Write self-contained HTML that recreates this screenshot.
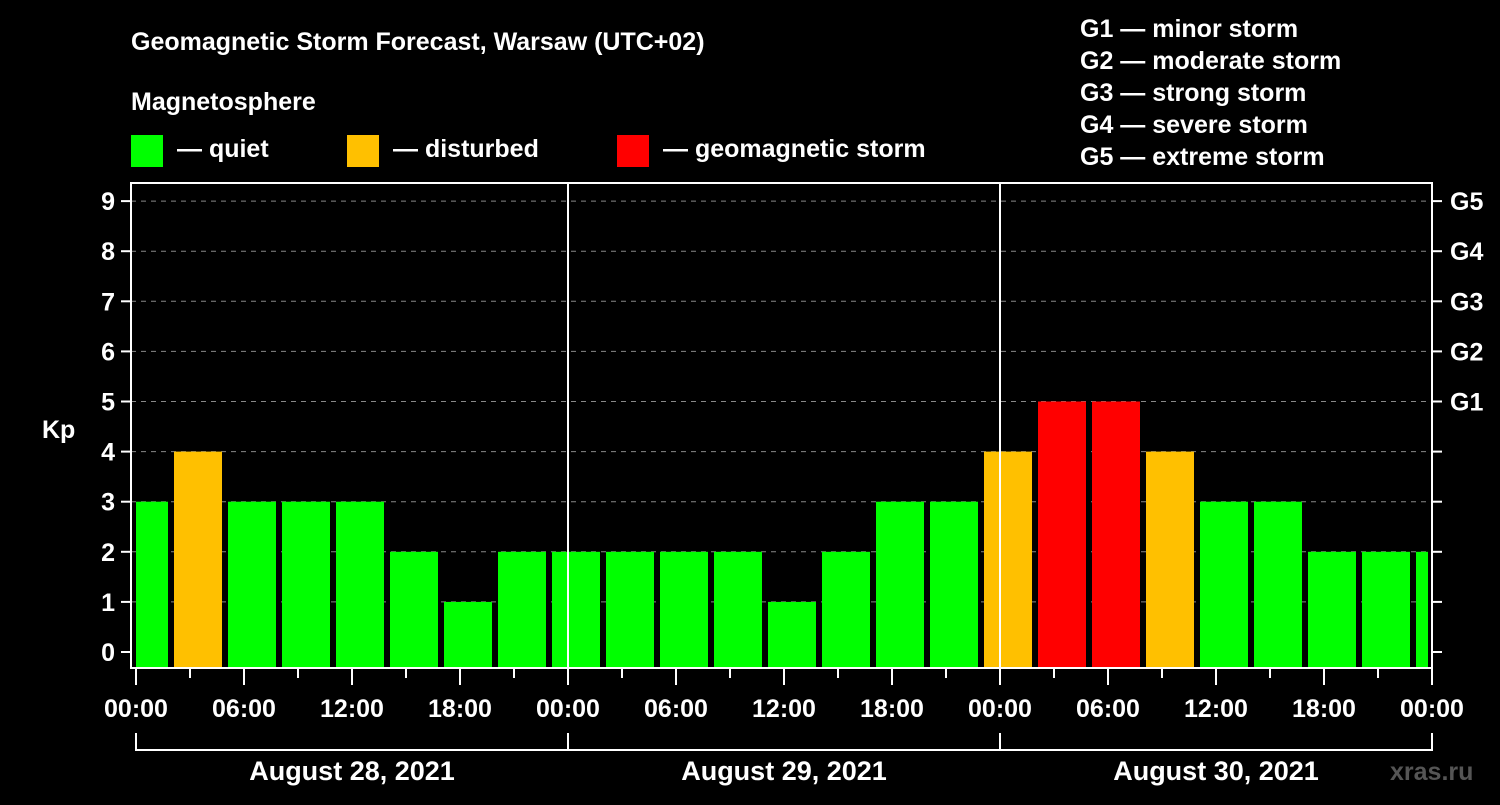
<!DOCTYPE html>
<html><head><meta charset="utf-8"><style>
body{margin:0;background:#000;}
svg text{font-family:"Liberation Sans",sans-serif;font-weight:bold;fill:#fff;}
</style></head><body>
<svg id="c" width="1500" height="800" viewBox="0 0 1500 800" xmlns="http://www.w3.org/2000/svg">
<rect width="1500" height="800" fill="#000"/>
<text x="131" y="50" font-size="25">Geomagnetic Storm Forecast, Warsaw (UTC+02)</text>
<text x="131" y="110" font-size="25">Magnetosphere</text>
<g>
<rect x="131" y="135" width="32" height="32" fill="#00ff00"/>
<text x="177" y="157" font-size="25">— quiet</text>
<rect x="347" y="135" width="32" height="32" fill="#ffc000"/>
<text x="393" y="157" font-size="25">— disturbed</text>
<rect x="617" y="135" width="32" height="32" fill="#ff0000"/>
<text x="663" y="157" font-size="25">— geomagnetic storm</text>
</g>
<g font-size="25">
<text x="1080" y="37">G1 — minor storm</text>
<text x="1080" y="69">G2 — moderate storm</text>
<text x="1080" y="101">G3 — strong storm</text>
<text x="1080" y="133">G4 — severe storm</text>
<text x="1080" y="165">G5 — extreme storm</text>
</g>
<text x="42" y="438" font-size="25">Kp</text>
<text x="1390" y="780" font-size="25" fill="#444" style="fill:#555">xras.ru</text>
<g id="grid"></g><g id="bars"></g><g id="axes"></g>
</svg>
<script>
const kpValues=[3,4,3,3,3,2,1,2,2,2,2,2,1,2,3,3,4,5,5,4,3,3,2,2,2];
const yTicks=[0,1,2,3,4,5,6,7,8,9];
const gLabels=["","","","","","G1","G2","G3","G4","G5"];
const xTickLabels=["00:00","06:00","12:00","18:00","00:00","06:00","12:00","18:00","00:00","06:00","12:00","18:00","00:00"];
const dayLabels=["August 28, 2021","August 29, 2021","August 30, 2021"];
const NS="http://www.w3.org/2000/svg";
const L=131,R=1432,T=183,B=668,X0=136,PXH=18;
const y=v=>652-(v)*50.1;
const x=h=>X0+h*PXH;
function mk(tag,attrs,parent,txt){const e=document.createElementNS(NS,tag);for(const k in attrs)e.setAttribute(k,attrs[k]);if(txt!==undefined)e.textContent=txt;parent.appendChild(e);return e;}
const grid=document.getElementById('grid'),bars=document.getElementById('bars'),axes=document.getElementById('axes');
yTicks.forEach((v,i)=>{
 if(v>0){const g=mk('line',{x1:L,x2:R,y1:y(v),y2:y(v),stroke:'#888','stroke-dasharray':'5,5','stroke-width':1},grid);
 }
 const t=mk('line',{x1:L-10,x2:L,y1:y(v),y2:y(v),stroke:'#fff','stroke-width':2},axes);
 
 const t2=mk('line',{x1:R,x2:R+10,y1:y(v),y2:y(v),stroke:'#fff','stroke-width':2},axes);
 
 const lb=mk('text',{x:L-16,y:y(v)+9,'font-size':25,'text-anchor':'end'},axes,String(v));
 
 if(gLabels[i]){const gl=mk('text',{x:R+18,y:y(v)+9,'font-size':25},axes,gLabels[i]);
 }
});
kpValues.forEach((v,i)=>{
 let x1=x(i*3)-16,x2=x1+48;x1=Math.max(x1,L+5);x2=Math.min(x2,R-4);
 const col=v>=5?'#ff0000':(v>=4?'#ffc000':'#00ff00');
 const r=mk('rect',{x:x1,y:y(v),width:x2-x1,height:B-y(v),fill:col},bars);
 
});
[1,2].forEach(d=>{const l=mk('line',{x1:x(d*24),x2:x(d*24),y1:T,y2:B,stroke:'#fff','stroke-width':2},axes);
 });
const fr=mk('rect',{x:L,y:T,width:R-L,height:B-T,fill:'none',stroke:'#fff','stroke-width':2},axes);

for(let h=0;h<=72;h+=3){const major=h%6===0;
 const t=mk('line',{x1:x(h),x2:x(h),y1:B,y2:B+(major?17:10),stroke:'#fff','stroke-width':2},axes);
 }
xTickLabels.forEach((s,i)=>{const t=mk('text',{x:x(i*6),y:717,'font-size':25,'text-anchor':'middle'},axes,s);
 });
dayLabels.forEach((s,d)=>{
 const p=mk('path',{d:`M${x(d*24)},733V750H${x(d*24+24)}V733`,fill:'none',stroke:'#fff','stroke-width':2},axes);
 
 const t=mk('text',{x:x(d*24+12),y:780,'font-size':27,'text-anchor':'middle'},axes,s);
 });
</script>
</body></html>
